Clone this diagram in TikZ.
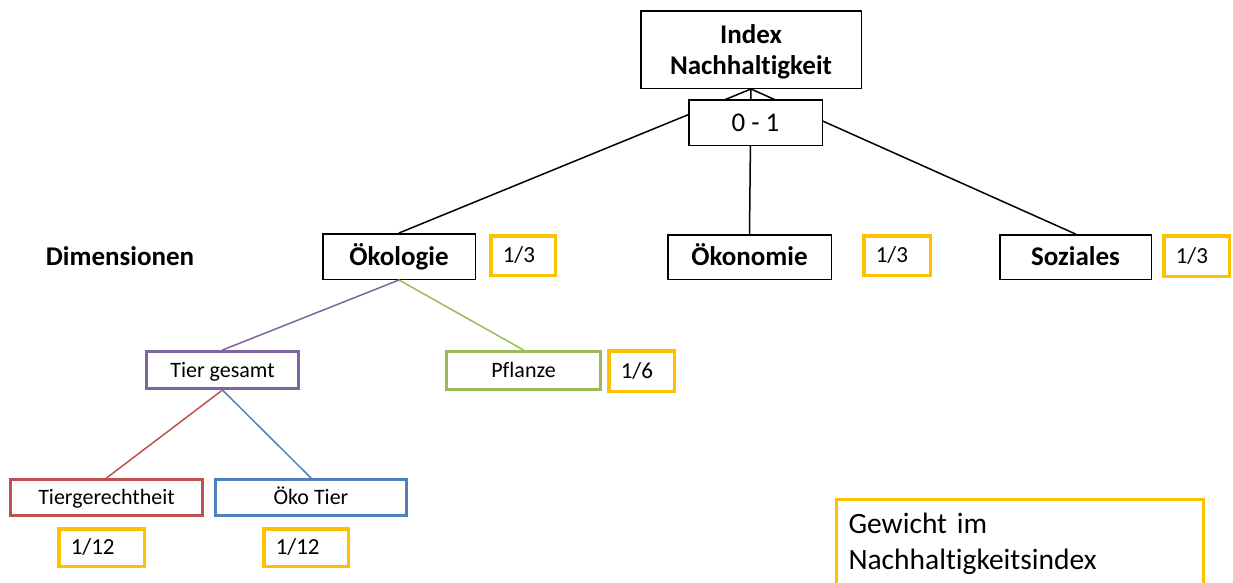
\documentclass[tikz,border=0pt]{standalone}
\usepackage{fontspec}
\setmainfont{Carlito}[Ligatures=NoCommon]
\usepackage{xcolor}
\definecolor{goldw}{RGB}{255,192,0}
\definecolor{lilac}{RGB}{128,100,162}
\definecolor{leaf}{RGB}{155,187,89}
\definecolor{brick}{RGB}{192,80,77}
\definecolor{steel}{RGB}{79,129,189}

\begin{document}
\begin{tikzpicture}[x=1pt,y=-1pt,line cap=round,
  box/.style={draw,line width=1.5pt,fill=white,inner sep=0pt},
  dimbox/.style={box,text height=17pt,text depth=0pt,font=\fontsize{27}{32}\selectfont\bfseries},
  subbox/.style={box,draw=#1,line width=3pt,text height=14.5pt,text depth=0pt,font=\fontsize{22}{26}\selectfont},
  wbox/.style={draw=goldw,line width=3.5pt,fill=white,inner xsep=12pt,inner ysep=0pt,align=left,text height=14pt,text depth=0pt,font=\fontsize{23}{27}\selectfont}]
  \clip (0,0) rectangle (1233,582);
  % top of the tree
  \node[box,minimum width=220.5,minimum height=77.5,align=center,text depth=0pt,font=\fontsize{27}{31}\selectfont\bfseries] (index) at (751,49.5) {Index\\Nachhaltigkeit};
  \node[text height=17pt,text depth=0pt,font=\fontsize{27}{32}\selectfont\bfseries] (dimlabel) at (120,257) {Dimensionen};
  \node[dimbox,minimum width=152.5,minimum height=45.5] (oekologie) at (399,256.5) {Ökologie};
  \node[dimbox,minimum width=163.5,minimum height=44.5] (oekonomie) at (749.5,257) {Ökonomie};
  \node[dimbox,minimum width=151.5,minimum height=44.5] (soziales) at (1075.5,257) {Soziales};
  \foreach \d in {oekologie,oekonomie,soziales}{\draw[line width=1.5pt] (index.south) -- (\d.north);}
  \node[box,minimum width=133.5,minimum height=45.5,text height=18pt,text depth=0pt,font=\fontsize{27}{32}\selectfont] (range) at (755.5,122.5) {0 - 1};
  % ecology branch
  \node[subbox=lilac,minimum width=152,minimum height=37] (tier) at (222.5,370) {Tier gesamt};
  \node[subbox=leaf,minimum width=154,minimum height=38] (pflanze) at (523.5,370.5) {Pflanze};
  \node[subbox=brick,minimum width=192,minimum height=36] (tiergerecht) at (106.5,497.5) {Tiergerechtheit};
  \node[subbox=steel,minimum width=191,minimum height=36] (oekotier) at (311,497.5) {Öko Tier};
  \foreach \a/\b/\c in {oekologie/tier/lilac,oekologie/pflanze/leaf,tier/tiergerecht/brick,tier/oekotier/steel}{\draw[\c,line width=1.5pt] (\a.south) -- (\b.north);}
  % weights
  \foreach \n/\x/\y/\tw/\h/\t in {wA/523/255.5/40.5/39.5/1\slash 3,wB/897/255.5/42.5/39.5/1\slash 3,wC/1196.5/256/41.5/40.5/1\slash 3,wD/641.5/371/41.5/40.5/1\slash 6,wE/101.5/547.5/61.5/37.5/1\slash 12,wF/306/547.5/60.5/37.5/1\slash 12}{\node[wbox,text width=\tw,minimum height=\h] (\n) at (\x,\y) {\t};}
  \node[wbox,anchor=north west,text width=343,inner ysep=12pt,text height=22pt,text depth=80pt,font=\fontsize{29.5}{36}\selectfont] (legend) at (834.75,497.75) {Gewicht im\\Nachhaltigkeitsindex};
\end{tikzpicture}
\end{document}
